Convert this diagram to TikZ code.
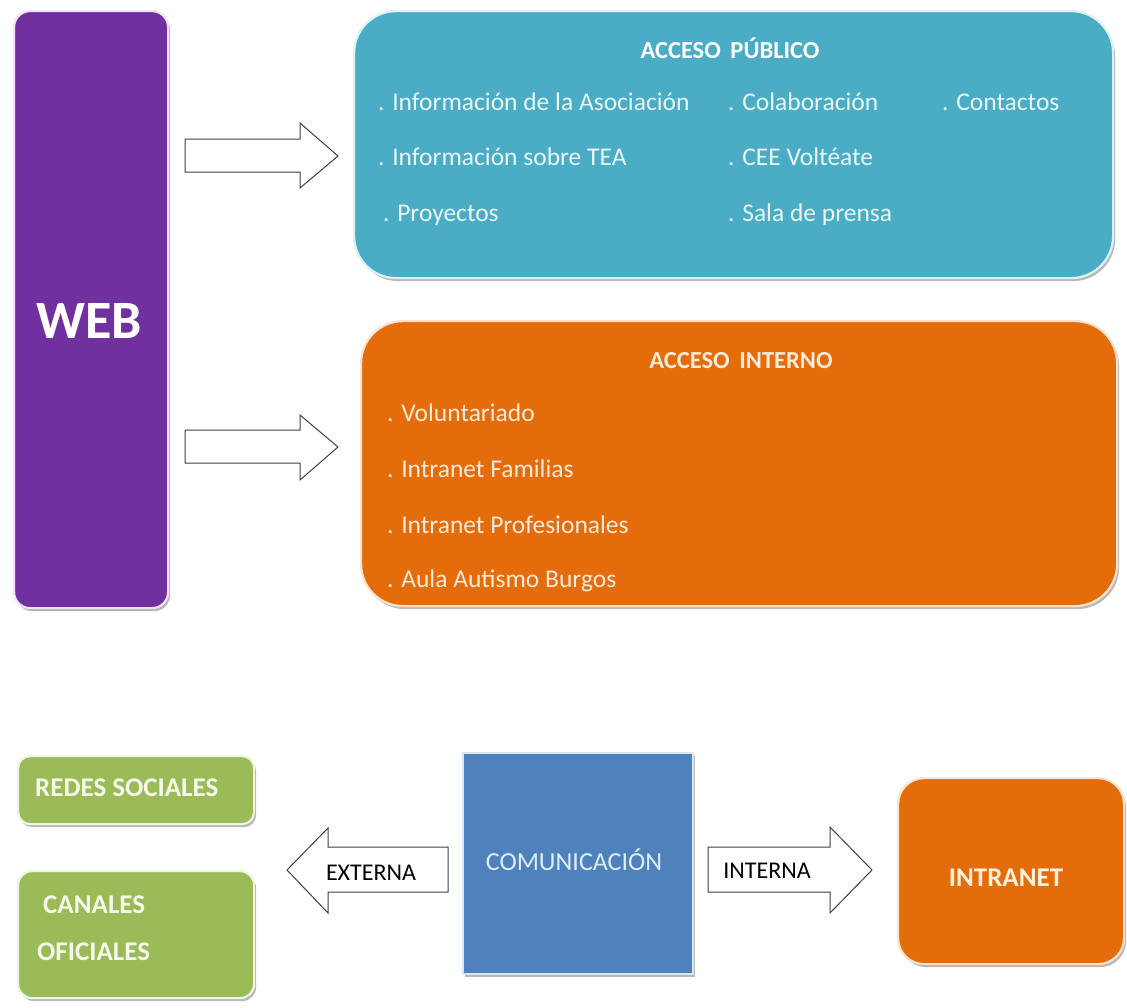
\documentclass[tikz,border=0pt]{standalone}
\usepackage{fontspec}
\setmainfont{Carlito}
\usetikzlibrary{shadows}
\definecolor{cpurple}{HTML}{7030A0}
\definecolor{caqua}{HTML}{4BACC6}
\definecolor{corange}{HTML}{E46C0A}
\definecolor{cgreen}{HTML}{9BBB59}
\definecolor{cblue}{HTML}{4F81BD}
\definecolor{arrowline}{HTML}{404040}
\definecolor{rimpurple}{HTML}{F3E1F5}
\definecolor{rimaqua}{HTML}{DDF3F8}
\definecolor{rimorange}{HTML}{FBE3CF}
\definecolor{rimgreen}{HTML}{EEF5E0}
\definecolor{rimblue}{HTML}{DCE6F2}
\definecolor{txtaqua}{HTML}{E8F8FB}
\definecolor{txtpeach}{HTML}{FDEADA}
\definecolor{txtgreen}{HTML}{F6FAEA}
\definecolor{txtblue}{HTML}{DDEEFA}
\definecolor{txtcream}{HTML}{FFF2DC}
\begin{document}
\begin{tikzpicture}[x=1pt,y=-1pt,
  panel/.style={inner sep=0pt, anchor=north west, line width=2.2pt,
    drop shadow={shadow xshift=2pt, shadow yshift=-3pt, opacity=0.4, fill=black!70}},
  item/.style={inner sep=0pt, anchor=west, font=\fontsize{25.5}{30}\selectfont,
    text height=21pt, text depth=5pt},
  headtxt/.style={inner sep=0pt, font=\bfseries\fontsize{24.5}{28}\selectfont,
    text height=21pt, text depth=5pt},
  bigtxt/.style={inner sep=0pt, font=\bfseries\fontsize{27}{30}\selectfont,
    text height=22pt, text depth=5pt},
  blockarr/.style={draw=arrowline, fill=white, line width=1pt, line join=miter},
  arrtxt/.style={inner sep=0pt, font=\fontsize{24}{28}\selectfont, text=black,
    text height=20pt, text depth=4pt}]
\useasboundingbox (0,0) rectangle (1127,1007);
\fill[white] (0,0) rectangle (1127,1007);

% WEB column
\node[panel, rounded corners=16pt, fill=cpurple, draw=rimpurple,
  minimum width=154pt, minimum height=597pt] (web) at (13,10) {};
\node[inner sep=0pt, font=\bfseries\fontsize{54}{60}\selectfont, text=white] (webt) at (89,321) {WEB};

% Acceso publico
\node[panel, rounded corners=42pt, fill=caqua, draw=rimaqua,
  minimum width=759pt, minimum height=267pt] (pub) at (353,10) {};
\node[headtxt, text=white] (pubh) at (730,50) {ACCESO\, PÚBLICO};
\begin{scope}[every node/.style={item, text=txtaqua}]
\node (p1) at (378,102) {. Información de la Asociación};
\node (p2) at (378,157) {. Información sobre TEA};
\node (p3) at (383,213) {. Proyectos};
\node (p4) at (728,102) {. Colaboración};
\node (p5) at (728,157) {. CEE Voltéate};
\node (p6) at (728,213) {. Sala de prensa};
\node (p7) at (942,102) {. Contactos};
\end{scope}

% Acceso interno
\node[panel, rounded corners=42pt, fill=corange, draw=rimorange,
  minimum width=756pt, minimum height=285pt] (int) at (360,320) {};
\node[headtxt, text=txtpeach] (inth) at (741,360) {ACCESO\, INTERNO};
\begin{scope}[every node/.style={item, text=txtpeach}]
\node (q1) at (387,413) {. Voluntariado};
\node (q2) at (387,469) {. Intranet Familias};
\node (q3) at (387,525) {. Intranet Profesionales};
\node (q4) at (387,579) {. Aula Autismo Burgos};
\end{scope}

% arrows WEB -> panels
\draw[blockarr] (185,139) -- (300,139) -- (300,123) -- (338,156) -- (300,188) -- (300,172) -- (185,172) -- cycle;
\draw[blockarr] (185,430) -- (300,430) -- (300,415) -- (338,447) -- (300,480) -- (300,463) -- (185,463) -- cycle;

% bottom: green boxes
\node[panel, rounded corners=12pt, fill=cgreen, draw=rimgreen,
  minimum width=236pt, minimum height=68pt] (redes) at (17,755) {};
\node[bigtxt, anchor=west, text=txtgreen] (redest) at (35,788) {REDES SOCIALES};
\node[panel, rounded corners=14pt, fill=cgreen, draw=rimgreen,
  minimum width=236pt, minimum height=127pt] (canal) at (17,870) {};
\node[bigtxt, anchor=west, text=txtgreen] (canalt1) at (43,905) {CANALES};
\node[bigtxt, anchor=west, text=txtgreen] (canalt2) at (37,952) {OFICIALES};

% comunicacion
\node[panel, fill=cblue, draw=rimblue,
  minimum width=230pt, minimum height=221pt] (com) at (462,752) {};
\node[inner sep=0pt, font=\fontsize{26}{30}\selectfont, text=txtblue,
  text height=21pt, text depth=5pt] (comt) at (574,862) {COMUNICACIÓN};

% intranet
\node[panel, rounded corners=26pt, fill=corange, draw=rimorange,
  minimum width=226pt, minimum height=186pt] (intra) at (897,777) {};
\node[bigtxt, text=txtcream] (intrat) at (1006,878) {INTRANET};

% externa / interna arrows
\draw[blockarr] (448,847) -- (328,847) -- (328,828) -- (287,870) -- (328,913) -- (328,892) -- (448,892) -- cycle;
\node[arrtxt] (ext) at (371,872) {EXTERNA};
\draw[blockarr] (708,847) -- (830,847) -- (830,827) -- (872,870) -- (830,913) -- (830,892) -- (708,892) -- cycle;
\node[arrtxt] (inn) at (767,870) {INTERNA};
\end{tikzpicture}
\end{document}
